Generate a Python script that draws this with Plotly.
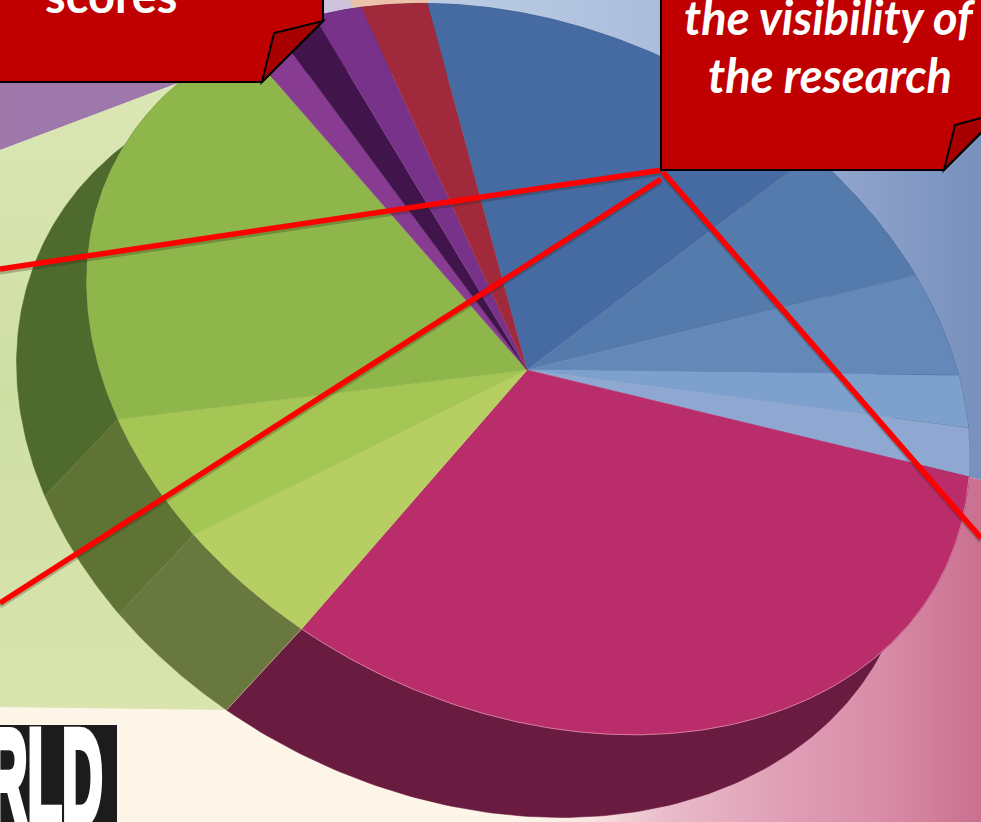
import numpy as np
import plotly.graph_objects as go

# Slice shares (percent of the pie), in drawing order around the rim
slice_names = ["Blue A", "Blue B", "Blue C", "Blue D", "Blue E", "Magenta",
               "Lime A", "Lime B", "Green", "Purple A", "Purple B", "Purple C", "Red"]
slice_values = [14.8, 5.9, 4.4, 2.3, 2.2, 32.7, 5.1, 5.3, 19.8, 1.5, 1.7, 1.9, 2.5]
top_colors = ["#466ba3", "#557bad", "#6489b9", "#7da0cd", "#8fa8d2", "#ba2d6b",
              "#b7ce62", "#a5c655", "#8fb64b", "#873c91", "#41144b", "#78328a", "#a02a3c"]
wall_colors = ["#2f4a73", "#2f4a73", "#2f4a73", "#2f4a73", "#2f4a73", "#691b40",
               "#69783e", "#5f7335", "#4f6a2d", "#4a2150", "#2b0d33", "#43194d", "#6a1c28"]

callout_left = "scores"
callout_right = ["the visibility of", "the research"]
logo_text = "RLD"

# Geometry of the tilted 3-D pie: top rim and bottom rim ellipses
APEX = (527, 370)
TOP = dict(cx=528.2, cy=369.1, a=462.2, b=339.2, ang=np.radians(-154.2))
BOT = dict(cx=464.5, cy=443.8, a=466.3, b=350.5, ang=np.radians(-155.1))
START = 57.3
BOT_SHIFT = 1.5


def rim(e, t_deg):
    t = np.radians(t_deg)
    x = e["a"] * np.cos(t)
    y = e["b"] * np.sin(t)
    return (e["cx"] + x * np.cos(e["ang"]) - y * np.sin(e["ang"]),
            e["cy"] + x * np.sin(e["ang"]) + y * np.cos(e["ang"]))


def poly(xs, ys, color):
    return go.Scatter(x=list(xs), y=list(ys), mode="lines", fill="toself", fillcolor=color,
                      line=dict(width=0.6, color=color), hoverinfo="skip", showlegend=False)


def grad(xs, ys, kind, scale):
    return go.Scatter(x=list(xs), y=list(ys), mode="lines", fill="toself",
                      fillgradient=dict(type=kind, colorscale=scale),
                      line=dict(width=0), hoverinfo="skip", showlegend=False)


def stroke(xs, ys, color, width):
    return go.Scatter(x=list(xs), y=list(ys), mode="lines", line=dict(width=width, color=color),
                      hoverinfo="skip", showlegend=False)


fig = go.Figure()

# Background panels behind the pie
fig.add_trace(poly([0, 0, 178, 323, 323], [0, 150, 83, 25, 0], "#9e78aa"))
fig.add_trace(grad([0, 178, 300, 400, 230, 0], [150, 83, 83, 400, 710, 707], "vertical",
                   [[0, "#d9e4ae"], [0.5, "#cfdfa4"], [1, "#dbe6b5"]]))
fig.add_trace(poly([323, 323, 362, 350], [0, 30, 30, 0], "#cdc3dc"))
fig.add_trace(poly([350, 362, 430, 430], [0, 30, 30, 0], "#ebc3aa"))
fig.add_trace(grad([430, 430, 527, 981, 981], [0, 30, 370, 480, 0], "horizontal",
                   [[0, "#bccde3"], [0.45, "#aabcdc"], [1, "#7890bd"]]))
fig.add_trace(grad([527, 981, 981, 527], [370, 480, 822, 822], "horizontal",
                   [[0, "#fdf5e8"], [0.13, "#f7e6e0"], [0.3, "#e9bccb"], [0.55, "#e0a0b7"],
                    [0.8, "#d88aa5"], [1, "#c9708f"]]))

# Pie walls, then pie top
bounds = START + np.concatenate([[0], np.cumsum(slice_values)]) / sum(slice_values) * 360
for i, color in enumerate(wall_colors):
    ts = np.linspace(bounds[i], bounds[i + 1], 120)
    x1, y1 = rim(TOP, ts)
    x2, y2 = rim(BOT, ts[::-1] + BOT_SHIFT)
    fig.add_trace(poly(np.r_[x1, x2], np.r_[y1, y2], color))
# faint seams between the visible wall segments
for i, seam in [(6, "#b89a80"), (7, "#75895a"), (8, "#6b7f45")]:
    x1, y1 = rim(TOP, bounds[i])
    x2, y2 = rim(BOT, bounds[i] + BOT_SHIFT)
    fig.add_trace(stroke([x1, x2], [y1, y2], seam, 1))
for i, color in enumerate(top_colors):
    ts = np.linspace(bounds[i], bounds[i + 1], 120)
    x1, y1 = rim(TOP, ts)
    fig.add_trace(poly(np.r_[APEX[0], x1], np.r_[APEX[1], y1], color))
# pale highlight along the front of the magenta slice
ts = np.linspace(bounds[5], bounds[6], 200)
x1, y1 = rim(TOP, ts)
fig.add_trace(stroke(x1, y1, "#d47a9c", 1))

shapes = []
# Red leader lines with a soft shadow
leaders = [((662, 170), (0, 269)), ((661, 179), (0, 603)), ((663, 172), (981, 538))]
for (xa, ya), (xb, yb) in leaders:
    shapes.append(dict(type="line", xref="x", yref="y", x0=xa, y0=ya + 3, x1=xb, y1=yb + 3,
                       line=dict(color="rgba(40,40,20,0.28)", width=5)))
for (xa, ya), (xb, yb) in leaders:
    shapes.append(dict(type="line", xref="x", yref="y", x0=xa, y0=ya, x1=xb, y1=yb,
                       line=dict(color="#ff0000", width=5.5)))
# Callout boxes with folded corners
shapes.append(dict(type="path", xref="x", yref="y", path="M -10 -10 L 323 -10 L 323 21 L 262 82 L -10 82 Z",
                   fillcolor="#c00000", line=dict(color="black", width=2)))
shapes.append(dict(type="path", xref="x", yref="y", path="M 262 82 L 274 33 L 323 21 Z",
                   fillcolor="#a80000", line=dict(color="black", width=2)))
shapes.append(dict(type="path", xref="x", yref="y", path="M 661 -10 L 1000 -10 L 1000 114 L 944 170 L 661 170 Z",
                   fillcolor="#c00000", line=dict(color="black", width=2)))
shapes.append(dict(type="path", xref="x", yref="y", path="M 944 170 L 955 125 L 1000 113 Z",
                   fillcolor="#a80000", line=dict(color="black", width=2)))
# Logo block
shapes.append(dict(type="rect", xref="x", yref="y", x0=-5, x1=117, y0=725, y1=830,
                   fillcolor="#1c1c1c", line=dict(width=0)))

FONT = "Lato, Carlito, Calibri, sans-serif"
annotations = [
    dict(x=111, y=25, yanchor="bottom", text=f"<b>{callout_left}</b>", showarrow=False, xref="x", yref="y",
         font=dict(family=FONT, size=47, color="white")),
    dict(x=830, y=17, text=f"<b><i>{callout_right[0]}</i></b>", showarrow=False, xref="x", yref="y",
         font=dict(family=FONT, size=47, color="white")),
    dict(x=830, y=75, text=f"<b><i>{callout_right[1]}</i></b>", showarrow=False, xref="x", yref="y",
         font=dict(family=FONT, size=47, color="white")),
    dict(x=45, y=777, text=f"<b>{logo_text}</b>", showarrow=False, xref="x", yref="y",
         font=dict(family="Liberation Sans Narrow, Liberation Sans, sans-serif", size=100, color="white")),
]

fig.update_layout(
    width=981, height=822, autosize=False,
    margin=dict(l=0, r=0, t=0, b=0, pad=0),
    paper_bgcolor="#fdf5e8", plot_bgcolor="#fdf5e8",
    xaxis=dict(range=[0, 981], visible=False, fixedrange=True),
    yaxis=dict(range=[822, 0], visible=False, fixedrange=True),
    shapes=shapes, annotations=annotations, showlegend=False,
)

post = """
document.body.style.margin='0';
document.body.style.overflow='hidden';
document.querySelectorAll('.annotation-text').forEach(function(t){
  if(t.textContent==='RLD'){
    var b=t.getBBox();
    // condense the logo lettering to the tall, narrow proportions of the original
    var sx=116/b.width, sy=1.35, cx=b.x+b.width/2, cy=b.y+b.height/2;
    t.setAttribute('transform','translate('+cx+','+cy+') scale('+sx+','+sy+') translate('+(-cx)+','+(-cy)+')');
    t.style.stroke='white';
    t.style.strokeWidth='6px';
  }
});
"""
fig.write_html("out.html", post_script=post, config=dict(displayModeBar=False))
